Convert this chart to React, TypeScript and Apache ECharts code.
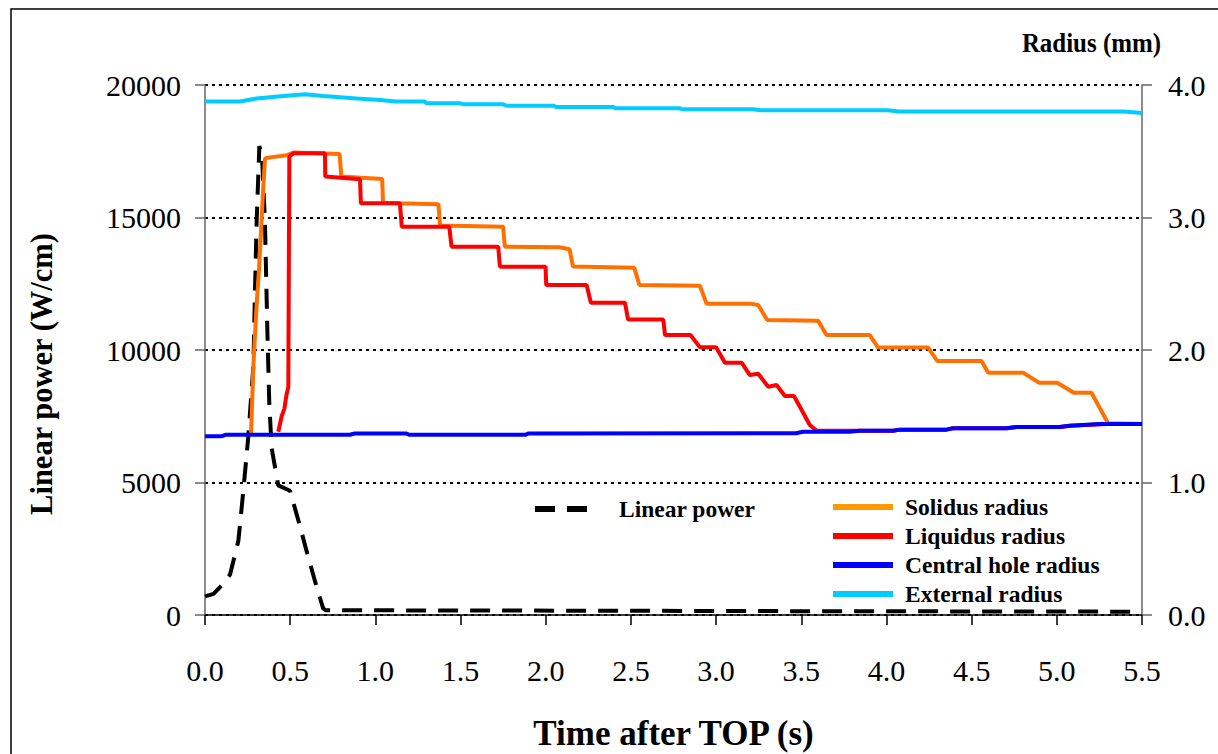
import React, { useEffect, useRef } from 'react';
import * as echarts from 'echarts';

const FONT = 'Liberation Serif, Times New Roman, serif';

// Linear power (W/cm) vs time (s)
const powerTime = [0, 0.05, 0.098, 0.147, 0.196, 0.225, 0.254, 0.284, 0.293, 0.303, 0.319, 0.335, 0.352, 0.366, 0.377, 0.391, 0.43, 0.499, 0.557, 0.597, 0.655, 0.694, 0.71, 1.5, 2.5, 3.5, 4.5, 5.5];
const powerValue = [700, 800, 1117, 1525, 2800, 4690, 6717, 9400, 12110, 14800, 17700, 17300, 14800, 10750, 8070, 6300, 4890, 4690, 3360, 2400, 1060, 240, 180, 170, 160, 145, 135, 125];

// Solidus radius (mm)
const solidusTime = [0.27, 0.284, 0.303, 0.317, 0.329, 0.342, 0.352, 0.36, 0.48, 0.52, 0.79, 0.8, 1.04, 1.045, 1.37, 1.38, 1.75, 1.76, 2.08, 2.14, 2.16, 2.52, 2.55, 2.905, 2.944, 3.2, 3.247, 3.3, 3.599, 3.648, 3.902, 3.951, 4.245, 4.298, 4.558, 4.597, 4.802, 4.896, 5.002, 5.1, 5.203, 5.301, 5.5];
const solidusValue = [1.36, 1.88, 2.34, 2.61, 2.9, 3.23, 3.44, 3.45, 3.47, 3.49, 3.48, 3.31, 3.29, 3.11, 3.1, 2.94, 2.93, 2.78, 2.775, 2.76, 2.63, 2.62, 2.49, 2.485, 2.35, 2.35, 2.34, 2.226, 2.221, 2.113, 2.113, 2.018, 2.018, 1.917, 1.917, 1.829, 1.829, 1.753, 1.753, 1.678, 1.678, 1.447, 1.442];

// Liquidus radius (mm)
const liquidusTime = [0.43, 0.45, 0.466, 0.479, 0.489, 0.495, 0.518, 0.704, 0.706, 0.91, 0.915, 1.144, 1.155, 1.434, 1.447, 1.721, 1.731, 1.999, 2.003, 2.24, 2.265, 2.465, 2.483, 2.69, 2.7, 2.85, 2.905, 3.0, 3.052, 3.15, 3.198, 3.247, 3.306, 3.355, 3.404, 3.457, 3.492, 3.55, 3.59, 3.8, 4.04, 4.079, 4.352, 4.39, 4.705, 4.763, 5.017, 5.076, 5.3, 5.5];
const liquidusValue = [1.383, 1.5, 1.558, 1.666, 1.72, 3.458, 3.485, 3.485, 3.31, 3.288, 3.108, 3.108, 2.93, 2.93, 2.78, 2.78, 2.629, 2.629, 2.49, 2.49, 2.357, 2.357, 2.231, 2.231, 2.113, 2.113, 2.02, 2.02, 1.904, 1.904, 1.811, 1.82, 1.723, 1.736, 1.653, 1.653, 1.572, 1.434, 1.391, 1.39, 1.391, 1.399, 1.399, 1.409, 1.409, 1.419, 1.419, 1.429, 1.442, 1.442];

// Central hole radius (mm)
const holeTime = [0, 0.1, 0.12, 0.85, 0.88, 1.18, 1.2, 1.88, 1.9, 3.47, 3.51, 3.785, 3.84, 4.04, 4.079, 4.352, 4.39, 4.705, 4.763, 5.017, 5.076, 5.25, 5.5];
const holeValue = [1.35, 1.35, 1.36, 1.36, 1.37, 1.37, 1.36, 1.36, 1.37, 1.372, 1.383, 1.383, 1.391, 1.391, 1.399, 1.399, 1.409, 1.409, 1.419, 1.419, 1.429, 1.442, 1.442];

// External radius (mm)
const externalTime = [0, 0.205, 0.303, 0.46, 0.587, 0.694, 0.89, 1.027, 1.12, 1.29, 1.3, 1.5, 1.52, 1.75, 1.77, 2.044, 2.06, 2.396, 2.41, 2.788, 2.8, 3.218, 3.26, 4.01, 4.07, 5.39, 5.5];
const externalValue = [3.876, 3.876, 3.898, 3.917, 3.93, 3.917, 3.898, 3.887, 3.876, 3.876, 3.862, 3.862, 3.854, 3.854, 3.844, 3.844, 3.834, 3.834, 3.824, 3.824, 3.817, 3.817, 3.809, 3.809, 3.8, 3.8, 3.789];

const xTicks = { min: 0, max: 5.5, interval: 0.5 };
const powerTicks = { min: 0, max: 20000, interval: 5000 };
const radiusTicks = { min: 0, max: 4, interval: 1 };

const zip = (a: number[], b: number[]) => a.map((t, i) => [t, b[i]]);

export default function App() {
  const ref = useRef<HTMLDivElement>(null);
  useEffect(() => {
    const chart = echarts.init(ref.current!, null, { renderer: 'svg' });
    const labelStyle = { fontFamily: FONT, fontSize: 30, color: '#000' };
    const legendText = { fontFamily: FONT, fontSize: 23.5, fontWeight: 'bold', color: '#000' };
    chart.setOption({
      animation: false,
      backgroundColor: '#fff',
      grid: { left: 205, right: 76, top: 85, bottom: 139, containLabel: false, outerBoundsMode: 'none' },
      xAxis: {
        type: 'value',
        ...xTicks,
        axisLine: { show: true, onZero: false, lineStyle: { color: '#000', width: 1.5 } },
        axisTick: { show: true, length: 10, lineStyle: { color: '#000', width: 1.5 } },
        axisLabel: { ...labelStyle, margin: 40, formatter: (v: number) => v.toFixed(1) },
        splitLine: { show: false },
        name: 'Time after TOP (s)',
        nameLocation: 'middle',
        nameGap: 101,
        nameTextStyle: { fontFamily: FONT, fontSize: 35, fontWeight: 'bold', color: '#000' },
      },
      yAxis: [
        {
          type: 'value',
          position: 'left',
          ...powerTicks,
          axisLine: { show: true, lineStyle: { color: '#666', width: 1.5 } },
          axisTick: { show: true, length: 10, lineStyle: { color: '#666', width: 1.5 } },
          axisLabel: { ...labelStyle, margin: 24, formatter: (v: number) => String(v) },
          splitLine: { show: true, lineStyle: { color: '#000', type: [3, 4], width: 2 } },
        },
        {
          type: 'value',
          position: 'right',
          ...radiusTicks,
          axisLine: { show: true, lineStyle: { color: '#666', width: 1.5 } },
          axisTick: { show: true, length: 10, lineStyle: { color: '#666', width: 1.5 } },
          axisLabel: { ...labelStyle, margin: 26, formatter: (v: number) => v.toFixed(1) },
          splitLine: { show: false },
        },
      ],
      legend: [
        {
          data: [{ name: 'Linear power' }],
          left: 527,
          top: 492,
          itemWidth: 52,
          itemHeight: 14,
          lineStyle: { width: 6 },
          itemStyle: { opacity: 0 },
          textStyle: { ...legendText, padding: [0, 0, 0, 27] },
        },
        {
          data: [
            { name: 'Solidus radius', lineStyle: { color: '#FF9900' } },
            { name: 'Liquidus radius' },
            { name: 'Central hole radius' },
            { name: 'External radius' },
          ],
          orient: 'vertical',
          left: 825,
          top: 490,
          itemWidth: 60,
          itemHeight: 14,
          itemGap: 5,
          lineStyle: { width: 6 },
          itemStyle: { opacity: 0 },
          textStyle: { ...legendText, padding: [0, 0, 0, 7] },
        },
      ],
      graphic: [
        {
          type: 'rect',
          shape: { x: 11, y: 9, width: 1230, height: 770 },
          style: { fill: 'none', stroke: '#000', lineWidth: 1.5 },
          silent: true,
        },
        {
          type: 'text',
          x: 42,
          y: 374,
          rotation: Math.PI / 2,
          style: {
            text: 'Linear power (W/cm)',
            fontFamily: FONT,
            fontSize: 30.5,
            fontWeight: 'bold',
            fill: '#000',
            align: 'center',
            verticalAlign: 'middle',
          },
        },
        {
          type: 'text',
          x: 1161,
          y: 42,
          scaleX: 0.89,
          style: {
            text: 'Radius (mm)',
            fontFamily: FONT,
            fontSize: 28,
            fontWeight: 'bold',
            fill: '#000',
            align: 'right',
            verticalAlign: 'middle',
          },
        },
      ],
      series: [
        {
          name: 'Linear power',
          type: 'line',
          yAxisIndex: 0,
          symbol: 'none',
          data: zip(powerTime, powerValue),
          lineStyle: { color: '#000', width: 4, type: [20, 12] },
          itemStyle: { color: '#000' },
        },
        {
          name: 'Solidus radius',
          type: 'line',
          yAxisIndex: 1,
          symbol: 'none',
          data: zip(solidusTime, solidusValue),
          lineStyle: { color: '#FF7000', width: 4 },
          itemStyle: { color: '#FF7000' },
        },
        {
          name: 'Liquidus radius',
          type: 'line',
          yAxisIndex: 1,
          symbol: 'none',
          data: zip(liquidusTime, liquidusValue),
          lineStyle: { color: '#FF0000', width: 4 },
          itemStyle: { color: '#FF0000' },
        },
        {
          name: 'Central hole radius',
          type: 'line',
          yAxisIndex: 1,
          symbol: 'none',
          data: zip(holeTime, holeValue),
          lineStyle: { color: '#0000FF', width: 4 },
          itemStyle: { color: '#0000FF' },
        },
        {
          name: 'External radius',
          type: 'line',
          yAxisIndex: 1,
          symbol: 'none',
          data: zip(externalTime, externalValue),
          lineStyle: { color: '#00CCFF', width: 4 },
          itemStyle: { color: '#00CCFF' },
        },
      ],
    });
    return () => chart.dispose();
  }, []);
  return (
    <div
      ref={ref}
      style={{ position: 'absolute', left: 0, top: 0, width: 1218, height: 754, background: '#fff' }}
    />
  );
}
